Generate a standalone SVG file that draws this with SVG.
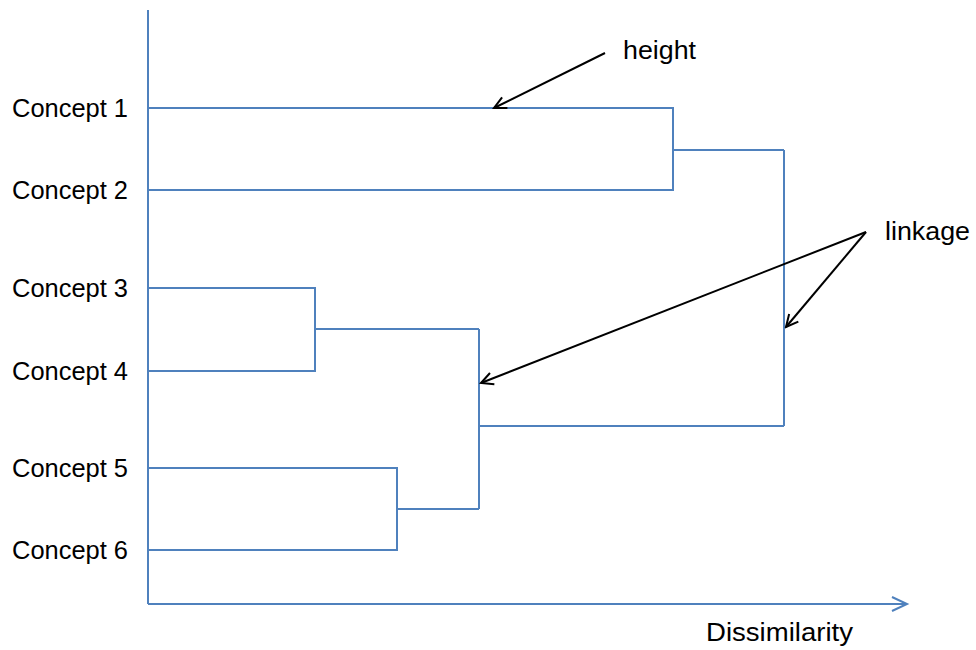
<svg xmlns="http://www.w3.org/2000/svg" width="976" height="650" viewBox="0 0 976 650">
<style>
.t{font-family:"Liberation Sans",Arial,sans-serif;font-size:25px;fill:#000}
.b{stroke:#4f81bd;stroke-width:2;fill:none}
.k{stroke:#000;stroke-width:2;fill:none}
</style>
<defs>
<marker id="ah" markerWidth="16" markerHeight="16" refX="14" refY="8" orient="auto" markerUnits="userSpaceOnUse">
<path d="M2,2 L14,8 L2,14" stroke="#000" stroke-width="2" fill="none"/>
</marker>
<marker id="ab" markerWidth="20" markerHeight="20" refX="17" refY="10" orient="auto" markerUnits="userSpaceOnUse">
<path d="M2,3 L17,10 L2,17" stroke="#4f81bd" stroke-width="2" fill="none"/>
</marker>
</defs>
<rect width="976" height="650" fill="#fff"/>
<g id="axes">
<line class="b" x1="148" y1="10" x2="148" y2="604"/>
<line class="b" x1="148" y1="604" x2="907" y2="604" marker-end="url(#ab)"/>
<text class="t" x="706" y="641" textLength="147" lengthAdjust="spacingAndGlyphs">Dissimilarity</text>
</g>
<g id="c1"><text class="t" x="12" y="117" textLength="116" lengthAdjust="spacingAndGlyphs">Concept 1</text></g>
<g id="c2"><text class="t" x="12" y="199" textLength="116" lengthAdjust="spacingAndGlyphs">Concept 2</text></g>
<g id="c3"><text class="t" x="12" y="297" textLength="116" lengthAdjust="spacingAndGlyphs">Concept 3</text></g>
<g id="c4"><text class="t" x="12" y="380" textLength="116" lengthAdjust="spacingAndGlyphs">Concept 4</text></g>
<g id="c5"><text class="t" x="12" y="477" textLength="116" lengthAdjust="spacingAndGlyphs">Concept 5</text></g>
<g id="c6"><text class="t" x="12" y="559" textLength="116" lengthAdjust="spacingAndGlyphs">Concept 6</text></g>
<g id="lbl-height"><text class="t" x="623" y="59" textLength="73" lengthAdjust="spacingAndGlyphs">height</text></g>
<g id="lbl-linkage"><text class="t" x="885" y="240" textLength="85" lengthAdjust="spacingAndGlyphs">linkage</text></g>
<g id="connectors">
<polyline class="b" points="149,108 673,108 673,190 149,190"/>
<line class="b" x1="673" y1="150" x2="784" y2="150"/>
<polyline class="b" points="149,288 315,288 315,371 149,371"/>
<line class="b" x1="315" y1="329" x2="479" y2="329"/>
<polyline class="b" points="149,468 397,468 397,550 149,550"/>
<line class="b" x1="397" y1="509" x2="479" y2="509"/>
<line class="b" x1="479" y1="329" x2="479" y2="509"/>
<line class="b" x1="479" y1="426" x2="784" y2="426"/>
<line class="b" x1="784" y1="150" x2="784" y2="426"/>
<line class="k" x1="605" y1="53" x2="494" y2="108" marker-end="url(#ah)"/>
<line class="k" x1="866" y1="232" x2="481" y2="383" marker-end="url(#ah)"/>
<line class="k" x1="866" y1="232" x2="786" y2="327" marker-end="url(#ah)"/>
</g>
</svg>
